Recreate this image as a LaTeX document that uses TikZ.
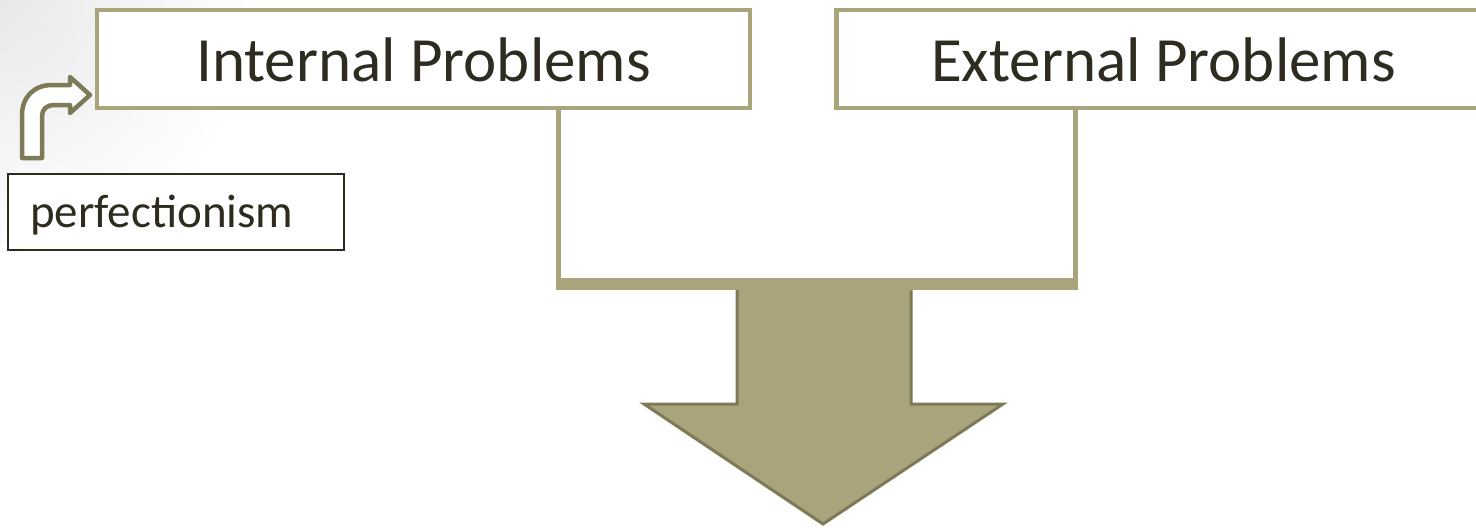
\documentclass[tikz,border=0pt]{standalone}
\usepackage{fontspec}
\setmainfont{Carlito}
\usetikzlibrary{calc}
\definecolor{khaki}{HTML}{A9A47B}
\definecolor{khakidark}{HTML}{7D7A57}
\definecolor{inkdark}{HTML}{2E2B20}
\tikzset{
  titlebox/.style={draw=khaki, line width=4.5pt, fill=white, minimum width=653pt,
    minimum height=98pt, inner sep=0pt},
  titletext/.style={anchor=base, inner sep=0pt, text=inkdark, font=\fontsize{63}{66}\selectfont},
  notebox/.style={draw=inkdark, line width=1.5pt, fill=white, minimum width=336pt,
    minimum height=76pt, inner sep=0pt},
  notetext/.style={anchor=base west, inner sep=0pt, text=inkdark, font=\fontsize{47}{50}\selectfont},
  bracketline/.style={draw=khaki, line width=5pt},
  bigarrow/.style={fill=khaki, draw=khakidark, line width=3pt, line join=miter},
  bentarrow/.style={fill=white, draw=khakidark, line width=4.5pt, line join=round}
}
\begin{document}
\begin{tikzpicture}[x=1pt, y=-1pt]
  \useasboundingbox (0,0) rectangle (1476,528);
  \clip (0,0) rectangle (1476,528);
  % soft grey in the upper left corner of the page
  \shade[inner color=black!9, outer color=white] (0,0) circle (260);

  % the two headings
  \node[titlebox] (int) at (423.5,59) {};
  \node[titletext] (intlabel) at (423.5,81) {Internal Problems};
  \node[titlebox] (ext) at (1163,59) {};
  \node[titletext] (extlabel) at (1163.5,81) {External Problems};

  % bracket joining both headings
  \coordinate (bl) at (558,284);
  \coordinate (br) at (1075,284);
  \draw[bracketline] (int.south -| bl) -- (bl) -- (br) -- (ext.south -| br);
  \draw[khaki, line width=12pt] ($(bl)+(-2.5,0)$) -- ($(br)+(2.5,0)$);

  % large downward arrow
  \draw[bigarrow] (737,290) -- (737,404) -- (644,404) -- (823,524)
    -- (1003,404) -- (911,404) -- (911,290);
  \fill[khaki] (738.5,285) rectangle (909.5,292);

  % note box and bent arrow pointing to the internal heading
  \node[notebox] (perf) at (176,212) {};
  \node[notetext] (perflabel) at (30,227) {perfectionism};
  \draw[bentarrow] (22,158) -- (22,115) .. controls (22,97) and (34,85) .. (52,85)
    -- (70,85) -- (70,77) -- (90,95) -- (70,113) -- (70,105) -- (54,105)
    .. controls (47,105) and (42,109) .. (42,116) -- (42,158) -- cycle;
\end{tikzpicture}
\end{document}
